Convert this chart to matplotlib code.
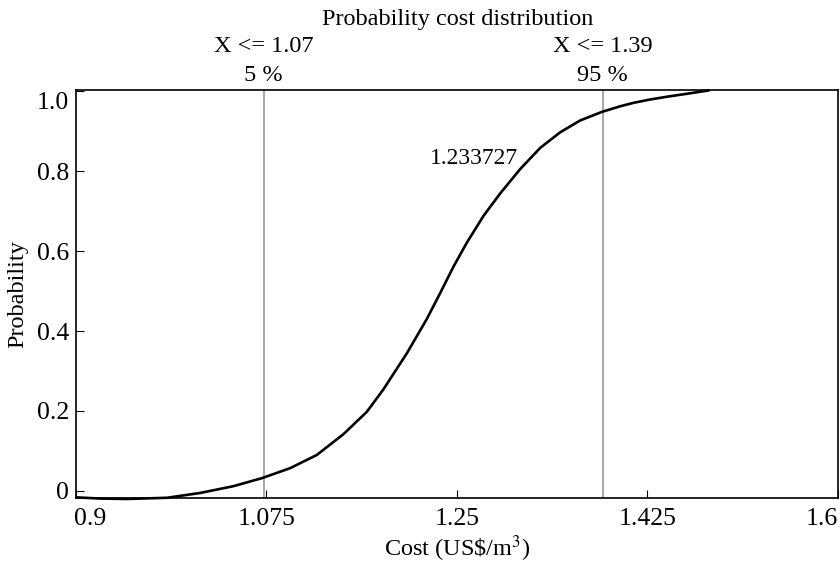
import matplotlib
matplotlib.use("Agg")
import matplotlib.pyplot as plt
import matplotlib.transforms as mtransforms

plt.rcParams['font.family'] = ['Liberation Serif', 'DejaVu Serif']
plt.rcParams['mathtext.fontset'] = 'stix'

# cumulative probability curve
cost = [0.9009, 0.9221, 0.9469, 0.9836, 1.014, 1.0446, 1.0707, 1.0967, 1.1212, 1.1457,
        1.1672, 1.1824, 1.2039, 1.2223, 1.2346, 1.2468, 1.2591, 1.2744, 1.2897, 1.3081,
        1.3265, 1.3449, 1.3632, 1.3832, 1.4, 1.412, 1.4276, 1.4432, 1.4643, 1.4809]
prob = [-0.016, -0.019, -0.02, -0.017, -0.005, 0.012, 0.032, 0.057, 0.09, 0.142,
        0.198, 0.254, 0.344, 0.43, 0.495, 0.561, 0.621, 0.688, 0.744, 0.805,
        0.858, 0.897, 0.9265, 0.948, 0.962, 0.9705, 0.979, 0.986, 0.9945, 1.0015]

# percentile markers
marker_x = [1.0725, 1.384]
marker_top = ["X <= 1.07", "X <= 1.39"]
marker_pct = ["5 %", "95 %"]

mean_label = "1.233727"
xticks = [0.9, 1.075, 1.25, 1.425, 1.6]
xtick_labels = ["0.9", "1.075", "1.25", "1.425", "1.6"]
yticks = [0, 0.2, 0.4, 0.6, 0.8, 1.0]
ytick_labels = ["0", "0.2", "0.4", "0.6", "0.8", "1.0"]

fig = plt.figure(figsize=(8.4, 5.63), dpi=100)
ax = fig.add_axes([0.0905, 0.1155, 0.907, 0.7245])

for mx in marker_x:
    ax.axvline(mx, color="#999999", lw=1.2, zorder=1)

ax.plot(cost, prob, color="black", lw=1.9, clip_on=False, zorder=3,
        solid_joinstyle="round")

ax.set_xlim(0.9, 1.6)
ax.set_ylim(-0.0175, 1.0025)

ax.set_xticks(xticks)
ax.set_xticklabels(xtick_labels, fontsize=18.5)
ax.set_yticks(yticks)
ax.set_yticklabels(ytick_labels, fontsize=18.5)
ax.tick_params(direction="in", length=6, width=0.8, top=False, right=False, pad=5)
ax.tick_params(axis="x", pad=7)

# end labels sit inside the axis span, as in the reference
xl = ax.get_xticklabels()
xl[0].set_transform(xl[0].get_transform() + mtransforms.ScaledTranslation(0.14, 0, fig.dpi_scale_trans))
xl[-1].set_transform(xl[-1].get_transform() + mtransforms.ScaledTranslation(-0.16, 0, fig.dpi_scale_trans))
yl = ax.get_yticklabels()
yl[-1].set_transform(yl[-1].get_transform() + mtransforms.ScaledTranslation(0, -0.09, fig.dpi_scale_trans))

for spine in ax.spines.values():
    spine.set_linewidth(1.2)

ax.set_xlabel("Cost (US\\$/m$^3$)", fontsize=17.5, labelpad=3)
ax.set_ylabel("Probability", fontsize=17.5, labelpad=6)

ax.text(1.306, 0.8325, mean_label, ha="right", va="center", fontsize=17)

for mx, t, p in zip(marker_x, marker_top, marker_pct):
    ax.annotate(t, xy=(mx, 0), xycoords=("data", "figure fraction"),
                xytext=(mx, 0.917), textcoords=("data", "figure fraction"),
                ha="center", va="center", fontsize=17.5)
    ax.annotate(p, xy=(mx, 0), xycoords=("data", "figure fraction"),
                xytext=(mx, 0.866), textcoords=("data", "figure fraction"),
                ha="center", va="center", fontsize=17.5)

fig.text(0.545, 0.966, "Probability cost distribution", ha="center", va="center", fontsize=17.5)

fig.savefig("out.png", dpi=100)
